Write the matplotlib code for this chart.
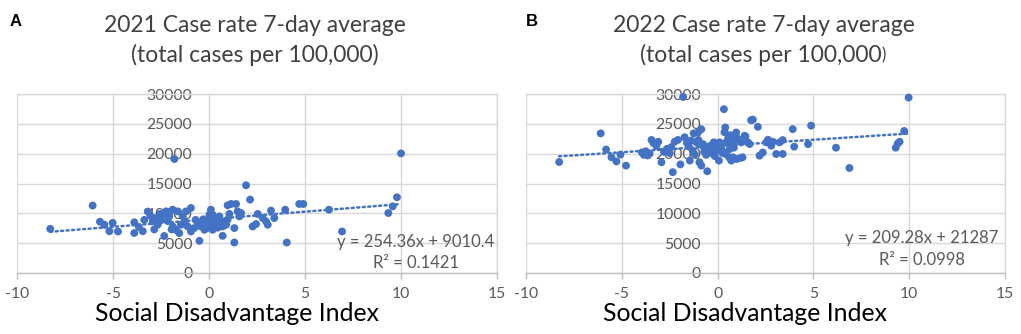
import matplotlib
matplotlib.use("Agg")
import matplotlib.pyplot as plt
import numpy as np

plt.rcParams['axes.unicode_minus'] = False
plt.rcParams['font.family'] = ['Lato', 'DejaVu Sans']

# ---------------- data ----------------
sdi_2021 = [-8.27, -6.06, -5.68, -5.45, -5.19, -5.02, -4.74, -3.89, -3.89, -3.65,
            -3.45, -3.37, -3.19, -3.05, -2.93, -2.85, -2.76, -2.67, -2.55, -2.50,
            -2.41, -2.33, -2.24, -2.15, -2.07, -1.95, -1.89, -1.89, -1.80, -1.72,
            -1.63, -1.55, -1.46, -1.37, -1.25, -1.20, -1.11, -0.94, -0.94, -0.77,
            -0.70, -0.59, -0.50, -0.42, -0.30, -0.24, -0.16, -0.10, 0.02, 0.10,
            0.10, 0.19, 0.19, 0.28, 0.36, 0.45, 0.54, 0.63, 0.71, 0.71,
            0.80, 0.89, 0.97, 0.97, 1.06, 1.15, 1.32, 1.32, 1.41, 1.49,
            1.58, 1.67, 1.93, 2.14, 2.27, 2.45, 2.54, 2.80, 2.97, 3.06,
            3.23, 3.40, 3.97, 4.05, 4.70, 4.91, 6.25, 6.93, 9.34, 9.57,
            9.79, 10.00]
rate_2021 = [7400, 11300, 8600, 8100, 7000, 8400, 6960, 8500, 6700, 7700,
             7000, 8900, 10300, 9600, 8650, 7300, 9200, 8100, 9900, 8900,
             9770, 6200, 10330, 8700, 9490, 7300, 10610, 7800, 19100, 7250,
             10330, 6690, 8090, 9490, 8600, 10330, 7800, 10900, 6960, 7530,
             8900, 8370, 5390, 7800, 9000, 7250, 8650, 7530, 9770, 10610,
             8370, 9770, 7250, 8370, 9210, 7600, 9490, 8370, 7800, 6230,
             8600, 8090, 8930, 11340, 9900, 11570, 7530, 5110, 11570, 10330,
             9490, 10050, 14700, 12300, 7800, 8200, 9890, 9210, 8650, 8090,
             10450, 9210, 10610, 5110, 11570, 11570, 10610, 6960, 10050, 11170,
             12690, 20050]

sdi_2022 = [-8.27, -6.10, -5.82, -5.54, -5.28, -5.07, -4.78, -3.95, -3.85, -3.75,
            -3.65, -3.55, -3.45, -3.35, -3.20, -3.10, -2.93, -2.80, -2.65, -2.50,
            -2.42, -2.34, -2.24, -2.07, -1.94, -1.80, -1.72, -1.60, -1.50, -1.45,
            -1.38, -1.30, -1.25, -1.20, -1.10, -1.02, -1.00, -0.95, -0.85, -0.85,
            -0.78, -0.76, -0.70, -0.60, -0.54, -0.45, -0.40, -0.35, -0.25, -0.20,
            -0.15, -0.10, 0.00, 0.07, 0.10, 0.15, 0.19, 0.25, 0.30, 0.33,
            0.36, 0.40, 0.45, 0.45, 0.55, 0.60, 0.63, 0.65, 0.70, 0.71,
            0.80, 0.80, 0.85, 0.89, 0.95, 0.97, 1.00, 1.06, 1.20, 1.23,
            1.30, 1.41, 1.45, 1.58, 1.67, 1.75, 1.84, 2.10, 2.19, 2.36,
            2.54, 2.63, 2.80, 2.88, 3.06, 3.23, 3.40, 3.40, 3.92, 4.00,
            4.72, 4.88, 6.18, 6.88, 9.30, 9.40, 9.50, 9.74, 9.97]
rate_2022 = [18600, 23400, 20700, 19400, 18700, 19850, 18000, 20200, 19800, 20400,
             19700, 20000, 22300, 21800, 21300, 22000, 18560, 20300, 20800, 20100,
             21100, 16900, 22000, 22300, 18200, 29500, 22750, 21800, 21200, 18850,
             22200, 20500, 23400, 19900, 21900, 23550, 22300, 18560, 24100, 18000,
             21300, 21600, 20300, 19800, 17050, 20800, 21300, 20100, 21500, 21900,
             19600, 20500, 20700, 18840, 21900, 21600, 20780, 20100, 20300, 27450,
             23600, 24400, 19900, 21890, 22600, 19400, 20780, 23100, 21700, 18840,
             22900, 19390, 21000, 23000, 22300, 23550, 19100, 22500, 19300, 21890,
             19390, 23000, 22900, 21890, 21610, 25610, 25700, 24500, 19670, 20200,
             21890, 22330, 21330, 22000, 19950, 21890, 22280, 19950, 24110, 21170,
             21600, 24700, 21000, 17600, 21000, 21700, 22000, 23800, 29400]

# Excel linear trendlines as printed on the chart
trend_2021 = [254.36, 9010.4]
trend_2022 = [209.28, 21287]
eq_2021 = ["y = 254.36x + 9010.4", "R² = 0.1421"]
eq_2022 = ["y = 209.28x + 21287", "R² = 0.0998"]

x_ticks = [-10, -5, 0, 5, 10, 15]
y_ticks = [0, 5000, 10000, 15000, 20000, 25000, 30000]

# ---------------- styling ----------------
W, H = 1021, 334
BLUE = '#4472C4'
GRID = '#d9d9d9'
AXLINE = '#bfbfbf'
TICKC = '#595959'
TITLEC = '#404040'

fig = plt.figure(figsize=(W / 100, H / 100), dpi=100)
fig.patch.set_facecolor('white')


def px_rect(x0, x1, ytop, ybot):
    return [x0 / W, 1 - ybot / H, (x1 - x0) / W, (ybot - ytop) / H]


def draw_panel(rect, xs, ys, trend, eq, title1, title2, letter, letter_x,
               eq_x, eq_y1, eq_y2, small_paren=False):
    ax = fig.add_axes(rect)
    ax.set_xlim(x_ticks[0], x_ticks[-1])
    ax.set_ylim(y_ticks[0], y_ticks[-1])
    ax.set_xticks(x_ticks)
    ax.set_yticks(y_ticks)
    ax.set_xticklabels([str(v) for v in x_ticks])
    ax.set_yticklabels([str(v) for v in y_ticks])
    ax.set_axisbelow(True)
    ax.grid(True, color=GRID, linewidth=1.0)
    for s in ['top', 'right']:
        ax.spines[s].set_color(GRID)
        ax.spines[s].set_linewidth(1.0)
    ax.spines['bottom'].set_color(AXLINE)
    ax.spines['bottom'].set_linewidth(1.0)
    ax.spines['left'].set_position(('data', 0))
    ax.spines['left'].set_visible(False)
    ax.tick_params(axis='y', length=0, pad=12, labelsize=11.3, labelcolor=TICKC)
    ax.tick_params(axis='x', length=4, width=1, color=AXLINE, pad=6,
                   labelsize=11.3, labelcolor=TICKC)

    ax.scatter(xs, ys, s=32, color=BLUE, edgecolors='none', zorder=3,
               clip_on=False)
    xx = np.array([min(xs), max(xs)])
    ax.plot(xx, trend[0] * xx + trend[1], color=BLUE, linewidth=1.8,
            linestyle=(0, (0.8, 1.4)), dash_capstyle='round', zorder=4)

    ax.text(eq_x, eq_y1, eq[0], transform=ax.transAxes, ha='center',
            va='center', fontsize=12, color=TICKC, zorder=6)
    ax.text(eq_x, eq_y2, eq[1], transform=ax.transAxes, ha='center',
            va='center', fontsize=12, color=TICKC, zorder=6)

    cx = rect[0] + rect[2] / 2
    fig.text(cx - 0.002, 1 - 26 / H, title1, ha='center', va='center',
             fontsize=16.5, color=TITLEC)
    if small_paren:
        t = fig.text(cx - 0.005, 1 - 55 / H, title2[:-1], ha='center',
                     va='center', fontsize=16.5, color=TITLEC)
        fig.canvas.draw()
        bb = t.get_window_extent()
        fig.text(bb.x1 / W + 0.0005, bb.y0 / H + 3 / H, title2[-1], ha='left',
                 va='bottom', fontsize=12, color=TITLEC)
    else:
        fig.text(cx - 0.002, 1 - 55 / H, title2, ha='center', va='center',
                 fontsize=16.5, color=TITLEC)

    fig.text(letter_x / W, 1 - 22 / H, letter, ha='center', va='center',
             fontsize=12, fontweight='bold', color='black',
             family=['Liberation Sans', 'DejaVu Sans'])
    ax.text(0.458, -0.225, 'Social Disadvantage Index', transform=ax.transAxes,
            ha='center', va='center', fontsize=17.8, color='black')
    return ax


draw_panel(px_rect(17, 497, 94, 273), sdi_2021, rate_2021, trend_2021, eq_2021,
           '2021 Case rate 7-day average', '(total cases per 100,000)', 'A', 16,
           0.831, 0.173, 0.056)
draw_panel(px_rect(526, 1005, 94, 273), sdi_2022, rate_2022, trend_2022, eq_2022,
           '2022 Case rate 7-day average', '(total cases per 100,000)', 'B', 532,
           0.827, 0.196, 0.073, small_paren=True)

fig.savefig('out.png', dpi=100, facecolor='white')
